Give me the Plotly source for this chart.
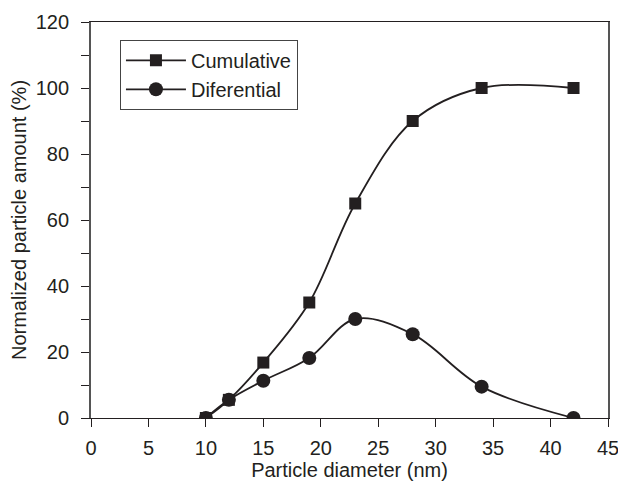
import plotly.graph_objects as go

diameter = [10, 12, 15, 19, 23, 28, 34, 42]
cumulative = [0, 5.5, 16.8, 35, 65, 90, 100, 100]
differential = [0, 5.5, 11.3, 18.2, 30, 25.4, 9.5, 0]

x_ticks = [0, 5, 10, 15, 20, 25, 30, 35, 40, 45]
y_ticks = [0, 10, 20, 30, 40, 50, 60, 70, 80, 90, 100, 110, 120]
y_labels = ["0", "", "20", "", "40", "", "60", "", "80", "", "100", "", "120"]

ink = "#231f20"
fam = "Liberation Sans, Arial, sans-serif"
font = dict(family=fam, size=20, color=ink)

fig = go.Figure()
fig.add_trace(go.Scatter(
    x=diameter, y=cumulative, name="Cumulative", mode="lines+markers",
    line=dict(color=ink, width=1.8, shape="spline", smoothing=1.0),
    marker=dict(symbol="square", size=12, color=ink),
))
fig.add_trace(go.Scatter(
    x=diameter, y=differential, name="Diferential", mode="lines+markers",
    line=dict(color=ink, width=1.8, shape="spline", smoothing=1.0),
    marker=dict(symbol="circle", size=14, color=ink),
))

fig.update_layout(
    width=618, height=481,
    margin=dict(l=91, r=10, t=22, b=63, autoexpand=False),
    paper_bgcolor="white", plot_bgcolor="white",
    font=font,
    showlegend=True,
    legend=dict(
        x=0.056, y=0.955, xanchor="left", yanchor="top",
        bordercolor="#444", borderwidth=1, bgcolor="white",
        font=dict(size=20, color=ink, family=fam),
        tracegroupgap=0, itemwidth=60,
    ),
    xaxis=dict(
        range=[0, 45], tickvals=x_ticks, ticktext=[str(v) for v in x_ticks],
        ticks="outside", ticklen=8, tickwidth=1.3, tickcolor=ink,
        showline=True, linecolor=ink, linewidth=1.3, mirror=True,
        showgrid=False, zeroline=False, automargin=False,
        ticklabelstandoff=4, ticklabeloverflow="allow",
        title=dict(text="Particle diameter (nm)", standoff=6, font=dict(size=20)),
        tickfont=dict(size=20),
    ),
    yaxis=dict(
        range=[0, 120], tickvals=y_ticks, ticktext=y_labels,
        ticks="outside", ticklen=8, tickwidth=1.3, tickcolor=ink,
        showline=True, linecolor="#555", linewidth=1.8, mirror=True,
        showgrid=False, zeroline=False, automargin=False,
        ticklabelstandoff=8, ticklabeloverflow="allow",
        title=dict(text="Normalized particle amount (%)", standoff=4, font=dict(size=20)),
        tickfont=dict(size=20),
    ),
)

fig.write_html(
    "out.html",
    config={"displayModeBar": False},
    post_script="document.body.style.margin='0';document.body.style.overflow='hidden';",
)
